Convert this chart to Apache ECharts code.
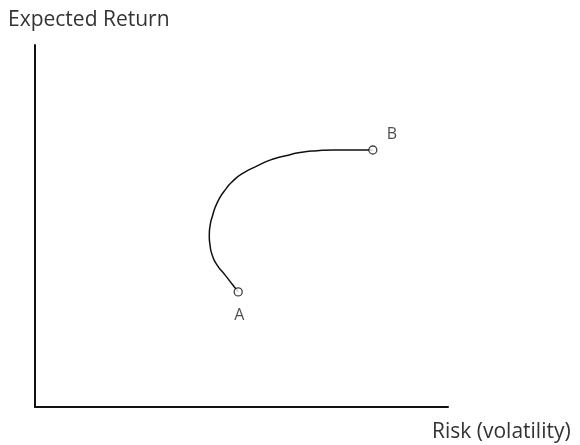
<!DOCTYPE html>
<html>
<head>
<meta charset="utf-8">
<script src="https://cdn.jsdelivr.net/npm/echarts@6/dist/echarts.min.js"></script>
<style>html,body{margin:0;padding:0;background:#fff;}#c{width:580px;height:445px;}</style>
</head>
<body>
<div id="c"></div>
<script>
// Efficient-frontier style curve from A to B (x = risk, y = expected return)
const curveX = [49.2, 47.9, 46.0, 44.1, 42.9, 42.4, 42.2, 42.4, 42.9, 44.1, 46.0, 47.9, 50.4, 53.8, 56.9, 61.0, 64.2, 68.3, 72.2, 80.4, 81.8];
const curveY = [31.8, 33.7, 36.5, 39.2, 42.0, 44.6, 47.4, 50.1, 52.5, 56.4, 59.9, 62.4, 64.6, 66.6, 68.2, 69.5, 70.3, 70.8, 71.0, 71.0, 71.0];
const pointNames = ['A', 'B'];
const pointX = [49.2, 81.8];
const pointY = [31.8, 71.0];
const xAxisName = 'Risk (volatility)';
const yAxisName = 'Expected Return';

const curveData = curveX.map((x, i) => [x, curveY[i]]);
const pointData = pointNames.map((n, i) => ({
  name: n,
  value: [pointX[i], pointY[i]],
  label: n === 'A' ? { offset: [1, 24] } : { offset: [19, -16] }
}));

const font = '"Open Sans", "Noto Sans", sans-serif';
const chart = echarts.init(document.getElementById('c'));
chart.setOption({
  animation: false,
  grid: { left: 35, right: 132, top: 45, bottom: 38 },
  xAxis: {
    type: 'value', min: 0, max: 100,
    name: xAxisName, nameLocation: 'end', nameGap: -16,
    nameTextStyle: { color: '#333', fontSize: 21, fontFamily: font, verticalAlign: 'top', align: 'left', padding: [15, 0, 0, 0] },
    axisLine: { show: true, lineStyle: { color: '#111', width: 2 } },
    axisTick: { show: false }, axisLabel: { show: false }, splitLine: { show: false }
  },
  yAxis: {
    type: 'value', min: 0, max: 100,
    name: yAxisName, nameLocation: 'end', nameGap: 14,
    nameTextStyle: { color: '#333', fontSize: 21, fontFamily: font, align: 'left', padding: [0, 0, 0, -27] },
    axisLine: { show: true, lineStyle: { color: '#111', width: 2 } },
    axisTick: { show: false }, axisLabel: { show: false }, splitLine: { show: false }
  },
  series: [
    {
      type: 'line', data: curveData, smooth: 0.6, showSymbol: false, symbol: 'none',
      lineStyle: { color: '#111', width: 1.5 }, z: 2
    },
    {
      type: 'scatter', data: pointData, symbol: 'circle', symbolSize: 8,
      itemStyle: { color: '#fff', borderColor: '#111', borderWidth: 1.3 },
      label: { show: true, position: 'inside', formatter: '{b}', color: '#222', fontSize: 16, fontFamily: font },
      z: 3
    }
  ]
});
</script>
</body>
</html>
